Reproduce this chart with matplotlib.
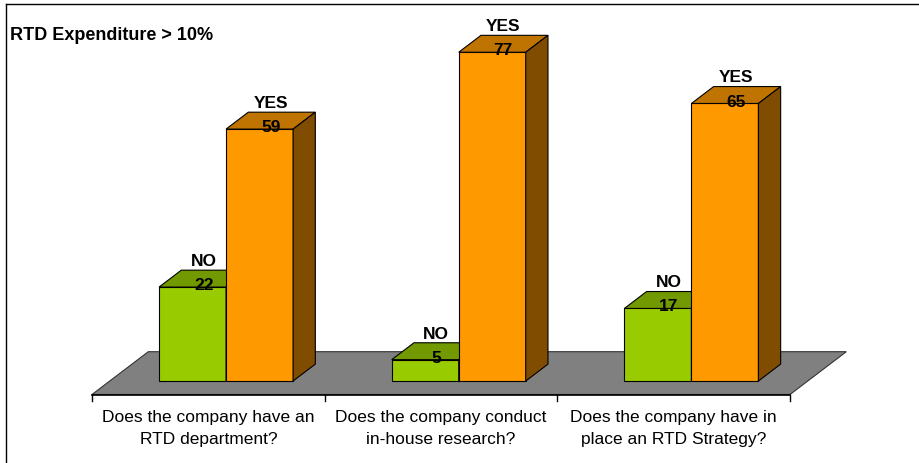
import matplotlib
matplotlib.use("Agg")
import matplotlib.pyplot as plt
from matplotlib.patches import Polygon
from matplotlib.lines import Line2D

# ---- data ----
title = "RTD Expenditure > 10%"
categories = ["Does the company have an\nRTD department?",
              "Does the company conduct\nin-house research?",
              "Does the company have in\nplace an RTD Strategy?"]
series_names = ["NO", "YES"]
no_values = [22, 5, 17]
yes_values = [59, 77, 65]

# ---- styling / geometry ----
W, H = 919, 464
front_cols = ["#99CC00", "#FF9900"]
top_cols = ["#739900", "#BF7300"]
side_cols = ["#4D6600", "#7F4C00"]
floor_col = "#808080"
FONT = "Liberation Sans"

# pixel calibration
px_per_cat = 232.67
x0_px = 92.0
px_per_val = 4.27
floor_front_px = 395.5
DX = 56.3 / px_per_cat          # depth offset in x (data units) for full floor depth
DY = 42.8 / px_per_val          # depth offset in y (value units) for full floor depth
z0, z1 = 0.315, 0.71            # bar depth range
bar_w = 0.288

fig = plt.figure(figsize=(W / 100, H / 100), dpi=100)
ax = fig.add_axes([0, 0, 1, 1])
ax.set_xlim(-0.5 - x0_px / px_per_cat, -0.5 + (W - x0_px) / px_per_cat)
ax.set_ylim(-(H - floor_front_px) / px_per_val, floor_front_px / px_per_val)
ax.axis("off")

def P(x, v, z):
    return (x + z * DX, v + z * DY)

n = len(categories)
# floor
floor = Polygon([P(-0.5, 0, 0), P(n - 0.5, 0, 0), P(n - 0.5, 0, 1), P(-0.5, 0, 1)],
                closed=True, facecolor=floor_col, edgecolor="#333333", lw=0.8, zorder=1)
ax.add_patch(floor)
# axis line and ticks
ax.plot([-0.5, n - 0.5], [0, 0], color="black", lw=1.2, zorder=2)
tick_len = 6.5 / px_per_val
for b in range(n + 1):
    ax.plot([b - 0.5, b - 0.5], [0, -tick_len], color="black", lw=1.0, zorder=2)

series = [no_values, yes_values]
z = 3
for i in range(n):
    for s, vals in enumerate(series):
        v = vals[i]
        xl = i - bar_w + s * bar_w
        xr = xl + bar_w
        # front face via bar
        fx, fy = P(xl, 0, z0)
        ax.bar([fx], [v], width=bar_w, bottom=fy, align="edge",
               color=front_cols[s], edgecolor="black", lw=0.8, zorder=z)
        # top face
        top = Polygon([P(xl, v, z0), P(xr, v, z0), P(xr, v, z1), P(xl, v, z1)],
                      closed=True, facecolor=top_cols[s], edgecolor="black", lw=0.8, zorder=z)
        ax.add_patch(top)
        # side face
        side = Polygon([P(xr, 0, z0), P(xr, v, z0), P(xr, v, z1), P(xr, 0, z1)],
                       closed=True, facecolor=side_cols[s], edgecolor="black", lw=0.8, zorder=z)
        ax.add_patch(side)
        z += 1
        # labels at mid depth
        zm = (z0 + z1) / 2
        lx, ly = P(xl + bar_w / 2, v, zm)
        ax.text(lx, ly + 13.7 / px_per_val, series_names[s], ha="center", va="baseline",
                fontsize=12.5, fontweight="bold", family=FONT, zorder=50)
        ax.text(lx, ly - 10.5 / px_per_val, str(v), ha="center", va="baseline",
                fontsize=12.5, fontweight="bold", family=FONT, zorder=50)

# category labels
for i, c in enumerate(categories):
    ax.text(i, -(428.5 - floor_front_px) / px_per_val, c, ha="center", va="center",
            fontsize=12.5, family=FONT, linespacing=1.55, zorder=50)

# title
fig.text(10 / W, 1 - 40 / H, title, ha="left", va="baseline",
         fontsize=13, fontweight="bold", family=FONT)

# frame (left and top edges)
fig.add_artist(Line2D([6 / W, 6 / W], [0, 1 - 5 / H], transform=fig.transFigure,
                      color="black", lw=1.0))
fig.add_artist(Line2D([6 / W, 1], [1 - 5 / H, 1 - 5 / H], transform=fig.transFigure,
                      color="black", lw=1.0))

fig.savefig("out.png", dpi=100)
